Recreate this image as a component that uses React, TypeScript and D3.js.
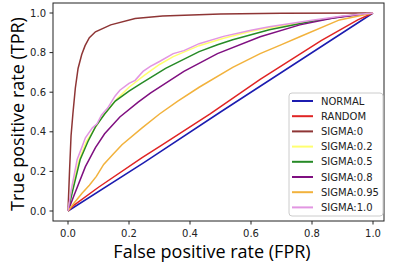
import React from "react";
import * as d3 from "d3";

// ROC curves: [fpr, tpr]
const normal = [[0, 0], [0.25, 0.245], [0.5, 0.5], [0.75, 0.75], [1, 1]];
const random = [[0, 0], [0.02, 0.03], [0.1, 0.12], [0.243, 0.27], [0.31, 0.335], [0.466, 0.49], [0.63, 0.665], [0.83, 0.86], [0.95, 0.965], [1, 1]];
const sigma0 = [[0, 0], [0.005, 0.2], [0.01, 0.38], [0.016, 0.49], [0.024, 0.62], [0.033, 0.72], [0.045, 0.79], [0.056, 0.835], [0.07, 0.875], [0.09, 0.905], [0.14, 0.94], [0.22, 0.972], [0.31, 0.985], [0.5, 0.995], [0.7, 0.999], [1, 1]];
const sigma02 = [[0, 0], [0.012, 0.1], [0.035, 0.25], [0.06, 0.35], [0.085, 0.41], [0.11, 0.47], [0.16, 0.565], [0.2, 0.625], [0.25, 0.685], [0.3, 0.74], [0.345, 0.78], [0.43, 0.835], [0.51, 0.872], [0.6, 0.908], [0.66, 0.925], [0.8, 0.96], [0.9, 0.984], [1, 1]];
const sigma05 = [[0, 0], [0.015, 0.1], [0.04, 0.26], [0.065, 0.35], [0.09, 0.425], [0.12, 0.49], [0.155, 0.555], [0.2, 0.605], [0.24, 0.645], [0.32, 0.72], [0.43, 0.805], [0.49, 0.84], [0.54, 0.865], [0.66, 0.915], [0.8, 0.958], [0.9, 0.982], [1, 1]];
const sigma08 = [[0, 0], [0.02, 0.08], [0.057, 0.224], [0.09, 0.32], [0.12, 0.39], [0.17, 0.475], [0.23, 0.55], [0.27, 0.595], [0.38, 0.705], [0.49, 0.795], [0.63, 0.88], [0.76, 0.94], [0.87, 0.975], [1, 1]];
const sigma095 = [[0, 0], [0.02, 0.04], [0.046, 0.09], [0.07, 0.13], [0.093, 0.175], [0.117, 0.235], [0.15, 0.29], [0.177, 0.335], [0.243, 0.42], [0.3, 0.49], [0.36, 0.555], [0.43, 0.625], [0.54, 0.725], [0.63, 0.795], [0.7, 0.84], [0.76, 0.88], [0.89, 0.965], [1, 1]];
const sigma10 = [[0, 0], [0.01, 0.1], [0.03, 0.26], [0.045, 0.32], [0.057, 0.37], [0.08, 0.42], [0.095, 0.44], [0.11, 0.485], [0.13, 0.52], [0.154, 0.58], [0.17, 0.61], [0.2, 0.645], [0.22, 0.66], [0.246, 0.705], [0.27, 0.73], [0.3, 0.755], [0.345, 0.795], [0.38, 0.81], [0.43, 0.845], [0.51, 0.882], [0.6, 0.913], [0.66, 0.93], [0.8, 0.963], [0.9, 0.985], [1, 1]];

const labels = ["NORMAL", "RANDOM", "SIGMA:0", "SIGMA:0.2", "SIGMA:0.5", "SIGMA:0.8", "SIGMA:0.95", "SIGMA:1.0"];
const colors = ["#1c1cb0", "#e02424", "#8e3535", "#ffff70", "#268a26", "#7f0f80", "#f2b23c", "#e296e2"];
const ticks = [0, 0.2, 0.4, 0.6, 0.8, 1.0];

const series = [normal, random, sigma0, sigma02, sigma05, sigma08, sigma095, sigma10];

export default function App() {
    const width = 395;
    const height = 270;
    const frame = { left: 53, right: 384, top: 3, bottom: 221 };

    const x = d3.scaleLinear().domain([0, 1]).range([68, 373]);
    const y = d3.scaleLinear().domain([0, 1]).range([211, 13]);

    const line = d3
        .line<number[]>()
        .x((d) => x(d[0]))
        .y((d) => y(d[1]));

    const legendX = 289;
    const legendY = 93;

    return (
        <svg width={width} height={height} style={{ display: "block", position: "absolute", left: 0, top: 0 }}>
            <rect x={0} y={0} width={width} height={height} fill="#fff" />
            {series.map((s, i) => (
                <path key={labels[i]} d={line(s) || ""} fill="none" stroke={colors[i]} strokeWidth={1.5} />
            ))}
            <rect
                x={frame.left}
                y={frame.top}
                width={frame.right - frame.left}
                height={frame.bottom - frame.top}
                fill="none"
                stroke="#222"
                strokeWidth={1}
            />
            {/* x axis */}
            {ticks.map((t) => (
                <g key={"x" + t}>
                    <line x1={x(t)} x2={x(t)} y1={frame.bottom} y2={frame.bottom + 3.5} stroke="#222" />
                    <text x={x(t)} y={frame.bottom + 16} textAnchor="middle" fontFamily="DejaVu Sans" fontSize={10} fill="#222">
                        {t.toFixed(1)}
                    </text>
                </g>
            ))}
            {/* y axis */}
            {ticks.map((t) => (
                <g key={"y" + t}>
                    <line x1={frame.left - 3.5} x2={frame.left} y1={y(t)} y2={y(t)} stroke="#222" />
                    <text x={frame.left - 7} y={y(t) + 3.6} textAnchor="end" fontFamily="DejaVu Sans" fontSize={10} fill="#222">
                        {t.toFixed(1)}
                    </text>
                </g>
            ))}
            <text x={212} y={258} textAnchor="middle" fontFamily="Open Sans" fontSize={18} fill="#000">
                False positive rate (FPR)
            </text>
            <text
                transform={`translate(24,114) rotate(-90)`}
                textAnchor="middle"
                fontFamily="Open Sans"
                fontSize={18}
                fill="#000"
            >
                True positive rate (TPR)
            </text>
            {/* legend */}
            <rect x={legendX} y={legendY} width={94} height={123} rx={3} fill="#fff" fillOpacity={0.8} stroke="#ccc" />
            {labels.map((l, i) => (
                <g key={"leg" + l}>
                    <line
                        x1={legendX + 3}
                        x2={legendX + 24}
                        y1={legendY + 8 + i * 15.2}
                        y2={legendY + 8 + i * 15.2}
                        stroke={colors[i]}
                        strokeWidth={2}
                    />
                    <text x={legendX + 32} y={legendY + 11.5 + i * 15.2} fontFamily="DejaVu Sans" fontSize={10} fill="#222">
                        {l}
                    </text>
                </g>
            ))}
        </svg>
    );
}
